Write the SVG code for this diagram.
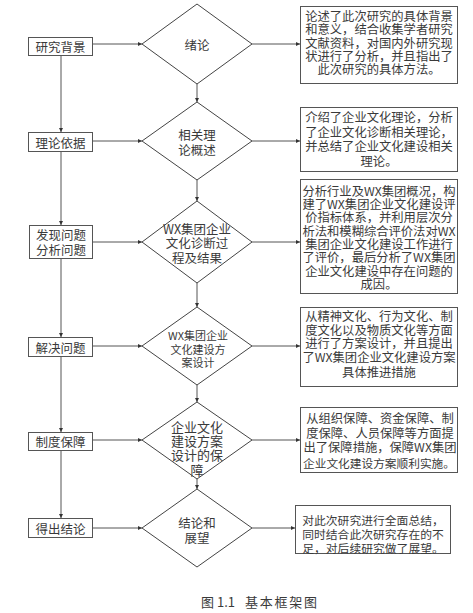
<svg xmlns="http://www.w3.org/2000/svg" width="473" height="613" viewBox="0 0 473 613">
<style>
.bx{fill:#fff;stroke:#555;stroke-width:1}
.dm{fill:#fff;stroke:#444;stroke-width:1}
.t{font-family:"Noto Sans CJK SC","Noto Sans",sans-serif;fill:#3a3a3a;text-anchor:middle;dominant-baseline:central}
.l{font-size:12.5px}
.r{font-size:12.3px}
.c{stroke:#555;stroke-width:1;fill:none;marker-end:url(#ah)}
</style>
<defs>
<marker id="ah" viewBox="0 0 8 8" refX="8" refY="4" markerWidth="4.5" markerHeight="4.5" orient="auto" markerUnits="userSpaceOnUse">
<path d="M0,0 L8,4 L0,8 Z" fill="#333"/>
</marker>
</defs>
<rect width="473" height="613" fill="#fff"/>
<g id="connectors">
<line class="c" x1="61" y1="55" x2="61" y2="132"/>
<line class="c" x1="61" y1="152" x2="61" y2="225"/>
<line class="c" x1="61" y1="258" x2="61" y2="337"/>
<line class="c" x1="61" y1="357" x2="61" y2="432"/>
<line class="c" x1="61" y1="450" x2="61" y2="518"/>
<line class="c" x1="93" y1="44" x2="142" y2="44"/>
<line class="c" x1="93" y1="141" x2="142" y2="141"/>
<line class="c" x1="93" y1="242" x2="142" y2="242"/>
<line class="c" x1="93" y1="346" x2="142" y2="346"/>
<line class="c" x1="93" y1="440" x2="142" y2="440"/>
<line class="c" x1="93" y1="528" x2="142" y2="528"/>
<line class="c" x1="197" y1="84" x2="197" y2="102"/>
<line class="c" x1="197" y1="180" x2="197" y2="201"/>
<line class="c" x1="197" y1="283" x2="197" y2="307"/>
<line class="c" x1="197" y1="385" x2="197" y2="402"/>
<line class="c" x1="197" y1="479" x2="197" y2="489"/>
<line class="c" x1="252" y1="44" x2="300" y2="44"/>
<line class="c" x1="252" y1="141" x2="300" y2="141"/>
<line class="c" x1="252" y1="242" x2="300" y2="242"/>
<line class="c" x1="252" y1="346" x2="300" y2="346"/>
<line class="c" x1="252" y1="440" x2="300" y2="440"/>
<line class="c" x1="252" y1="528" x2="295" y2="528"/>
</g>
<g id="n-yjbj"><rect class="bx" x="28.5" y="37.5" width="64" height="18"/><text class="t l" x="60.5" y="46.5">研究背景</text></g>
<g id="n-llyj"><rect class="bx" x="28.5" y="132.5" width="64" height="19"/><text class="t l" x="60.5" y="142">理论依据</text></g>
<g id="n-fxwt"><rect class="bx" x="29.5" y="225.5" width="63" height="33"/><text class="t l" x="61" y="234.5">发现问题</text><text class="t l" x="61" y="249">分析问题</text></g>
<g id="n-jjwt"><rect class="bx" x="28.5" y="337.5" width="64" height="19"/><text class="t l" x="60.5" y="347">解决问题</text></g>
<g id="n-zdbz"><rect class="bx" x="28.5" y="432.5" width="64" height="18"/><text class="t l" x="60.5" y="441.5">制度保障</text></g>
<g id="n-dcjl"><rect class="bx" x="28.5" y="518.5" width="64" height="19"/><text class="t l" x="60.5" y="528">得出结论</text></g>
<g id="d1"><polygon class="dm" points="197,4 252,44 197,84 142,44"/><text class="t l" x="197" y="44">绪论</text></g>
<g id="d2"><polygon class="dm" points="197,102 252,141 197,180 142,141"/><text class="t l" x="197" y="134">相关理</text><text class="t l" x="197" y="149">论概述</text></g>
<g id="d3"><polygon class="dm" points="197,201 252,242 197,283 142,242"/><text class="t" font-size="12.5" x="197" y="228">WX集团企业</text><text class="t l" x="197" y="242">文化诊断过</text><text class="t l" x="197" y="257">程及结果</text></g>
<g id="d4"><polygon class="dm" points="197,307 252,346 197,385 142,346"/><text class="t" font-size="11" x="198" y="335">WX集团企业</text><text class="t" font-size="11" x="198" y="348.5">文化建设方</text><text class="t" font-size="11" x="198" y="362">案设计</text></g>
<g id="d5"><polygon class="dm" points="197,402 252,440 197,479 142,440"/><text class="t" font-size="13" x="197" y="426">企业文化</text><text class="t" font-size="13" x="197" y="440">建设方案</text><text class="t" font-size="13" x="197" y="454">设计的保</text><text class="t" font-size="13" x="197" y="469">障</text></g>
<g id="d6"><polygon class="dm" points="197,489 252,528 197,567 142,528"/><text class="t l" x="197" y="522">结论和</text><text class="t l" x="197" y="537">展望</text></g>
<g id="b1"><rect class="bx" x="300.5" y="6.5" width="157" height="77"/>
<text class="t r" x="379" y="16">论述了此次研究的具体背景</text>
<text class="t r" x="379" y="29.3">和意义，结合收集学者研究</text>
<text class="t r" x="379" y="42.7">文献资料，对国内外研究现</text>
<text class="t r" x="379" y="56">状进行了分析，并且指出了</text>
<text class="t r" x="379" y="69.3">此次研究的具体方法。</text></g>
<g id="b2"><rect class="bx" x="300.5" y="107.5" width="157" height="64"/>
<text class="t r" x="379" y="117.3">介绍了企业文化理论，分析</text>
<text class="t r" x="379" y="131.7">了企业文化诊断相关理论，</text>
<text class="t r" x="379" y="146">并总结了企业文化建设相关</text>
<text class="t r" x="379" y="161">理论。</text></g>
<g id="b3"><rect class="bx" x="300.5" y="179.5" width="157" height="114"/>
<text class="t r" x="379" y="190.7">分析行业及WX集团概况，构</text>
<text class="t r" x="379" y="204">建了WX集团企业文化建设评</text>
<text class="t r" x="379" y="217.3">价指标体系，并利用层次分</text>
<text class="t r" x="379" y="230.7">析法和模糊综合评价法对WX</text>
<text class="t r" x="379" y="244">集团企业文化建设工作进行</text>
<text class="t r" x="379" y="257.3">了评价，最后分析了WX集团</text>
<text class="t r" x="379" y="270.7">企业文化建设中存在问题的</text>
<text class="t r" x="379" y="284">成因。</text></g>
<g id="b4"><rect class="bx" x="300.5" y="307.5" width="157" height="79"/>
<text class="t r" x="379" y="316">从精神文化、行为文化、制</text>
<text class="t r" x="379" y="329.5">度文化以及物质文化等方面</text>
<text class="t r" x="379" y="343.3">进行了方案设计，并且提出</text>
<text class="t r" x="379" y="357">了WX集团企业文化建设方案</text>
<text class="t r" x="379" y="371.5">具体推进措施</text></g>
<g id="b5"><rect class="bx" x="300.5" y="407.5" width="157" height="65"/>
<text class="t r" x="380" y="418">从组织保障、资金保障、制</text>
<text class="t r" x="380" y="432.5">度保障、人员保障等方面提</text>
<text class="t r" x="380" y="447">出了保障措施，保障WX集团</text>
<text class="t" font-size="11.7" x="379" y="462">企业文化建设方案顺利实施。</text></g>
<g id="b6"><rect class="bx" x="295.5" y="505.5" width="155" height="48"/>
<text class="t" font-size="11.8" x="373" y="519">对此次研究进行全面总结，</text>
<text class="t" font-size="11.8" x="373" y="533">同时结合此次研究存在的不</text>
<text class="t" font-size="11.8" x="373" y="547">足，对后续研究做了展望。</text></g>
<g id="caption"><text class="t" font-size="13" x="201" y="601" style="text-anchor:start" textLength="34" lengthAdjust="spacing">图 1.1</text><text class="t" font-size="13" x="245" y="601" style="text-anchor:start" textLength="72" lengthAdjust="spacing">基本框架图</text></g>
</svg>
